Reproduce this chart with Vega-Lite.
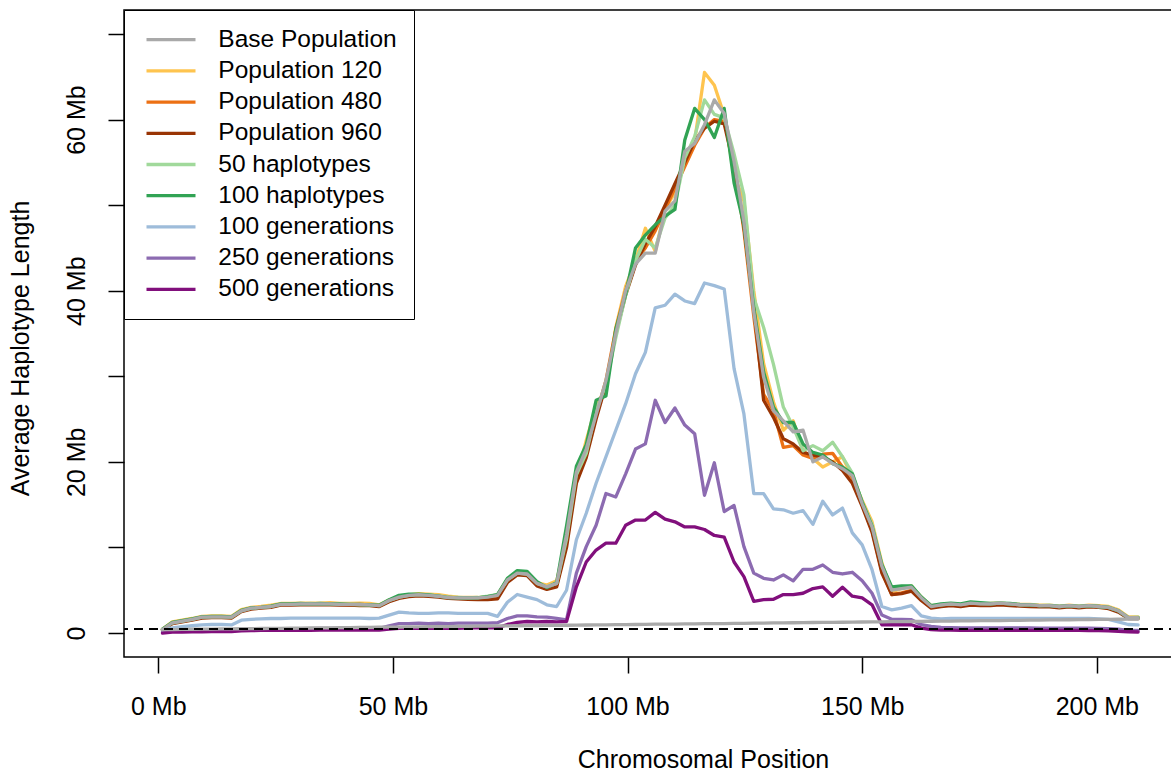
{
  "$schema": "https://vega.github.io/schema/vega-lite/v6.json",
  "width": 1054,
  "height": 647,
  "autosize": {"type": "none"},
  "padding": {"left": 124, "top": 10, "right": 0, "bottom": 114},
  "background": "white",
  "config": {
    "font": "Liberation Sans",
    "view": {"stroke": "black", "strokeWidth": 1.5}
  },
  "datasets": {
    "hap": [
      {"pos":0.9,"base":0.40,"p120":0.45,"p480":0.40,"p960":0.35,"h50":0.40,"h100":0.45,"g100":0.40,"g250":0.10,"g500":0.00,"top":0.40},
      {"pos":3.0,"base":0.41,"p120":1.3,"p480":1.2,"p960":1.1,"h50":1.2,"h100":1.25,"g100":0.6,"g250":0.2,"g500":0.1,"top":1.2},
      {"pos":5.1,"base":0.43,"p120":1.5,"p480":1.4,"p960":1.3,"h50":1.4,"h100":1.45,"g100":0.75,"g250":0.25,"g500":0.12,"top":1.4},
      {"pos":7.2,"base":0.44,"p120":1.7,"p480":1.6,"p960":1.5,"h50":1.6,"h100":1.65,"g100":0.85,"g250":0.28,"g500":0.14,"top":1.6},
      {"pos":9.3,"base":0.45,"p120":1.95,"p480":1.85,"p960":1.75,"h50":1.85,"h100":1.9,"g100":0.95,"g250":0.3,"g500":0.15,"top":1.85},
      {"pos":11.4,"base":0.46,"p120":2.0,"p480":1.9,"p960":1.8,"h50":1.9,"h100":1.95,"g100":1.0,"g250":0.3,"g500":0.16,"top":1.9},
      {"pos":13.5,"base":0.48,"p120":2.0,"p480":1.9,"p960":1.8,"h50":1.9,"h100":1.95,"g100":1.0,"g250":0.3,"g500":0.17,"top":1.9},
      {"pos":15.6,"base":0.49,"p120":1.95,"p480":1.85,"p960":1.75,"h50":1.85,"h100":1.9,"g100":0.95,"g250":0.32,"g500":0.18,"top":1.85},
      {"pos":17.7,"base":0.50,"p120":2.75,"p480":2.6,"p960":2.5,"h50":2.6,"h100":2.65,"g100":1.5,"g250":0.45,"g500":0.25,"top":2.6},
      {"pos":19.8,"base":0.51,"p120":3.0,"p480":2.9,"p960":2.8,"h50":2.9,"h100":2.95,"g100":1.6,"g250":0.48,"g500":0.28,"top":2.9},
      {"pos":21.9,"base":0.53,"p120":3.1,"p480":3.0,"p960":2.9,"h50":3.0,"h100":3.0,"g100":1.65,"g250":0.5,"g500":0.3,"top":3.0},
      {"pos":24.0,"base":0.54,"p120":3.25,"p480":3.1,"p960":3.0,"h50":3.1,"h100":3.15,"g100":1.7,"g250":0.5,"g500":0.3,"top":3.1},
      {"pos":26.1,"base":0.55,"p120":3.45,"p480":3.35,"p960":3.25,"h50":3.35,"h100":3.4,"g100":1.7,"g250":0.5,"g500":0.3,"top":3.35},
      {"pos":28.2,"base":0.56,"p120":3.45,"p480":3.35,"p960":3.25,"h50":3.35,"h100":3.4,"g100":1.75,"g250":0.52,"g500":0.32,"top":3.35},
      {"pos":30.3,"base":0.58,"p120":3.5,"p480":3.4,"p960":3.3,"h50":3.4,"h100":3.45,"g100":1.75,"g250":0.52,"g500":0.32,"top":3.4},
      {"pos":32.4,"base":0.59,"p120":3.5,"p480":3.4,"p960":3.3,"h50":3.45,"h100":3.4,"g100":1.75,"g250":0.52,"g500":0.32,"top":3.4},
      {"pos":34.5,"base":0.60,"p120":3.5,"p480":3.4,"p960":3.3,"h50":3.4,"h100":3.45,"g100":1.75,"g250":0.53,"g500":0.33,"top":3.4},
      {"pos":36.6,"base":0.61,"p120":3.55,"p480":3.4,"p960":3.3,"h50":3.4,"h100":3.4,"g100":1.75,"g250":0.53,"g500":0.33,"top":3.4},
      {"pos":38.7,"base":0.63,"p120":3.45,"p480":3.35,"p960":3.25,"h50":3.35,"h100":3.4,"g100":1.75,"g250":0.54,"g500":0.34,"top":3.35},
      {"pos":40.8,"base":0.64,"p120":3.45,"p480":3.3,"p960":3.25,"h50":3.35,"h100":3.35,"g100":1.75,"g250":0.54,"g500":0.34,"top":3.35},
      {"pos":42.9,"base":0.65,"p120":3.5,"p480":3.35,"p960":3.2,"h50":3.3,"h100":3.35,"g100":1.75,"g250":0.55,"g500":0.35,"top":3.35},
      {"pos":45.0,"base":0.66,"p120":3.45,"p480":3.3,"p960":3.2,"h50":3.3,"h100":3.3,"g100":1.7,"g250":0.55,"g500":0.35,"top":3.3},
      {"pos":47.1,"base":0.68,"p120":3.3,"p480":3.2,"p960":3.1,"h50":3.2,"h100":3.25,"g100":1.75,"g250":0.55,"g500":0.35,"top":3.2},
      {"pos":49.2,"base":0.69,"p120":3.85,"p480":3.75,"p960":3.65,"h50":3.8,"h100":3.9,"g100":2.1,"g250":0.85,"g500":0.45,"top":3.8},
      {"pos":51.3,"base":0.70,"p120":4.25,"p480":4.15,"p960":4.05,"h50":4.2,"h100":4.4,"g100":2.45,"g250":1.1,"g500":0.55,"top":4.2},
      {"pos":53.4,"base":0.71,"p120":4.45,"p480":4.35,"p960":4.25,"h50":4.4,"h100":4.55,"g100":2.35,"g250":1.1,"g500":0.55,"top":4.4},
      {"pos":55.5,"base":0.73,"p120":4.6,"p480":4.45,"p960":4.35,"h50":4.5,"h100":4.55,"g100":2.3,"g250":1.15,"g500":0.55,"top":4.5},
      {"pos":57.6,"base":0.74,"p120":4.55,"p480":4.4,"p960":4.3,"h50":4.45,"h100":4.45,"g100":2.3,"g250":1.1,"g500":0.55,"top":4.4},
      {"pos":59.7,"base":0.75,"p120":4.5,"p480":4.3,"p960":4.2,"h50":4.35,"h100":4.3,"g100":2.35,"g250":1.15,"g500":0.55,"top":4.3},
      {"pos":61.8,"base":0.76,"p120":4.3,"p480":4.15,"p960":4.05,"h50":4.2,"h100":4.15,"g100":2.35,"g250":1.1,"g500":0.55,"top":4.15},
      {"pos":63.9,"base":0.78,"p120":4.2,"p480":4.1,"p960":4.0,"h50":4.15,"h100":4.1,"g100":2.3,"g250":1.15,"g500":0.55,"top":4.1},
      {"pos":66.0,"base":0.79,"p120":4.15,"p480":4.05,"p960":3.95,"h50":4.1,"h100":4.1,"g100":2.3,"g250":1.15,"g500":0.6,"top":4.1},
      {"pos":68.1,"base":0.80,"p120":4.15,"p480":4.0,"p960":3.9,"h50":4.15,"h100":4.1,"g100":2.3,"g250":1.15,"g500":0.6,"top":4.1},
      {"pos":70.2,"base":0.81,"p120":4.25,"p480":4.1,"p960":3.9,"h50":4.3,"h100":4.25,"g100":2.3,"g250":1.15,"g500":0.6,"top":4.2},
      {"pos":72.3,"base":0.83,"p120":4.45,"p480":4.3,"p960":4.0,"h50":4.5,"h100":4.5,"g100":1.95,"g250":1.2,"g500":0.6,"top":4.4},
      {"pos":74.4,"base":0.84,"p120":6.3,"p480":6.1,"p960":5.9,"h50":6.2,"h100":6.4,"g100":3.6,"g250":1.7,"g500":1.0,"top":6.2},
      {"pos":76.5,"base":0.85,"p120":7.1,"p480":6.9,"p960":6.8,"h50":7.0,"h100":7.3,"g100":4.5,"g250":2.0,"g500":1.25,"top":7.0},
      {"pos":78.6,"base":0.86,"p120":7.0,"p480":6.8,"p960":6.7,"h50":6.9,"h100":7.2,"g100":4.2,"g250":2.0,"g500":1.35,"top":6.9},
      {"pos":80.7,"base":0.88,"p120":5.9,"p480":5.7,"p960":5.5,"h50":5.8,"h100":6.0,"g100":3.9,"g250":1.9,"g500":1.3,"top":5.8},
      {"pos":82.8,"base":0.89,"p120":5.6,"p480":5.3,"p960":5.1,"h50":5.4,"h100":5.3,"g100":3.3,"g250":1.85,"g500":1.35,"top":5.4},
      {"pos":84.9,"base":0.90,"p120":6.1,"p480":5.6,"p960":5.4,"h50":5.8,"h100":5.9,"g100":3.1,"g250":1.7,"g500":1.3,"top":5.8},
      {"pos":87.0,"base":0.91,"p120":11.0,"p480":10.5,"p960":10.0,"h50":11.0,"h100":12.5,"g100":5.0,"g250":1.55,"g500":1.35,"top":11.5},
      {"pos":89.1,"base":0.93,"p120":18.0,"p480":18.0,"p960":17.5,"h50":18.5,"h100":19.5,"g100":10.9,"g250":7.0,"g500":5.4,"top":18.8},
      {"pos":91.2,"base":0.94,"p120":22.5,"p480":21.0,"p960":20.5,"h50":21.0,"h100":22.0,"g100":14.0,"g250":10.1,"g500":8.3,"top":21.5},
      {"pos":93.3,"base":0.95,"p120":26.5,"p480":25.5,"p960":25.0,"h50":26.0,"h100":27.2,"g100":17.5,"g250":12.6,"g500":9.7,"top":25.5},
      {"pos":95.4,"base":0.96,"p120":28.6,"p480":29.5,"p960":29.0,"h50":29.0,"h100":27.7,"g100":20.6,"g250":16.3,"g500":10.5,"top":29.5},
      {"pos":97.5,"base":0.98,"p120":35.7,"p480":35.5,"p960":35.0,"h50":34.5,"h100":35.5,"g100":23.7,"g250":15.9,"g500":10.5,"top":35.0},
      {"pos":99.6,"base":0.99,"p120":40.5,"p480":40.0,"p960":39.5,"h50":39.5,"h100":39.6,"g100":26.8,"g250":18.6,"g500":12.6,"top":40.0},
      {"pos":101.7,"base":1.00,"p120":43.5,"p480":43.5,"p960":43.0,"h50":43.5,"h100":45.0,"g100":30.3,"g250":21.5,"g500":13.2,"top":43.1},
      {"pos":103.8,"base":1.01,"p120":47.3,"p480":45.0,"p960":45.5,"h50":46.0,"h100":46.5,"g100":32.8,"g250":22.1,"g500":13.2,"top":44.4},
      {"pos":105.9,"base":1.03,"p120":44.6,"p480":47.0,"p960":47.5,"h50":45.0,"h100":47.7,"g100":38.0,"g250":27.2,"g500":14.1,"top":44.4},
      {"pos":108.0,"base":1.04,"p120":49.5,"p480":49.5,"p960":50.0,"h50":48.5,"h100":48.7,"g100":38.3,"g250":24.6,"g500":13.3,"top":49.3},
      {"pos":110.1,"base":1.05,"p120":51.5,"p480":52.0,"p960":52.5,"h50":50.0,"h100":49.5,"g100":39.6,"g250":26.3,"g500":13.0,"top":50.5},
      {"pos":112.2,"base":1.06,"p120":55.5,"p480":54.5,"p960":55.0,"h50":55.5,"h100":57.6,"g100":38.8,"g250":24.3,"g500":12.4,"top":56.3},
      {"pos":114.3,"base":1.08,"p120":57.5,"p480":57.0,"p960":57.5,"h50":58.0,"h100":61.3,"g100":38.5,"g250":23.3,"g500":12.4,"top":57.2},
      {"pos":116.4,"base":1.09,"p120":65.5,"p480":59.0,"p960":59.0,"h50":62.3,"h100":60.0,"g100":40.9,"g250":16.1,"g500":12.1,"top":59.4},
      {"pos":118.5,"base":1.10,"p120":64.0,"p480":60.0,"p960":59.8,"h50":60.6,"h100":57.9,"g100":40.6,"g250":19.9,"g500":11.4,"top":62.3},
      {"pos":120.6,"base":1.11,"p120":60.5,"p480":59.8,"p960":59.5,"h50":60.2,"h100":61.3,"g100":40.2,"g250":14.2,"g500":11.2,"top":60.7},
      {"pos":122.7,"base":1.13,"p120":53.5,"p480":55.0,"p960":54.5,"h50":56.0,"h100":52.6,"g100":30.9,"g250":14.9,"g500":8.3,"top":55.1},
      {"pos":124.8,"base":1.14,"p120":50.5,"p480":47.0,"p960":47.5,"h50":51.2,"h100":47.7,"g100":25.6,"g250":10.1,"g500":6.6,"top":48.1},
      {"pos":126.9,"base":1.15,"p120":40.0,"p480":37.0,"p960":38.0,"h50":39.2,"h100":38.0,"g100":16.3,"g250":7.0,"g500":3.7,"top":37.5},
      {"pos":129.0,"base":1.16,"p120":31.5,"p480":27.9,"p960":27.2,"h50":35.7,"h100":30.5,"g100":16.3,"g250":6.4,"g500":3.9,"top":29.9},
      {"pos":131.1,"base":1.18,"p120":27.0,"p480":26.0,"p960":25.2,"h50":31.4,"h100":26.4,"g100":14.5,"g250":6.2,"g500":3.95,"top":26.0},
      {"pos":133.2,"base":1.19,"p120":23.7,"p480":21.7,"p960":22.7,"h50":26.4,"h100":24.6,"g100":14.4,"g250":6.8,"g500":4.5,"top":24.8},
      {"pos":135.3,"base":1.20,"p120":24.8,"p480":21.9,"p960":22.1,"h50":24.1,"h100":24.6,"g100":14.0,"g250":6.1,"g500":4.5,"top":23.5},
      {"pos":137.4,"base":1.21,"p120":21.3,"p480":20.8,"p960":21.1,"h50":21.3,"h100":22.1,"g100":14.3,"g250":7.45,"g500":4.65,"top":23.7},
      {"pos":139.5,"base":1.23,"p120":20.4,"p480":20.4,"p960":20.8,"h50":21.9,"h100":21.1,"g100":12.7,"g250":7.45,"g500":5.2,"top":20.0},
      {"pos":141.6,"base":1.24,"p120":19.4,"p480":20.9,"p960":20.6,"h50":21.3,"h100":20.8,"g100":15.4,"g250":7.95,"g500":5.4,"top":20.6},
      {"pos":143.7,"base":1.25,"p120":20.0,"p480":21.0,"p960":20.0,"h50":22.3,"h100":19.8,"g100":13.8,"g250":7.1,"g500":4.3,"top":19.8},
      {"pos":145.8,"base":1.26,"p120":20.6,"p480":19.4,"p960":19.0,"h50":20.6,"h100":19.4,"g100":14.6,"g250":6.9,"g500":5.35,"top":19.2},
      {"pos":147.9,"base":1.28,"p120":18.2,"p480":18.2,"p960":17.5,"h50":18.7,"h100":18.6,"g100":11.7,"g250":7.1,"g500":4.3,"top":18.4},
      {"pos":150.0,"base":1.29,"p120":15.5,"p480":15.0,"p960":14.8,"h50":15.3,"h100":15.3,"g100":10.3,"g250":6.1,"g500":4.1,"top":15.1},
      {"pos":152.1,"base":1.30,"p120":13.0,"p480":12.0,"p960":11.8,"h50":12.7,"h100":12.5,"g100":7.4,"g250":4.65,"g500":3.3,"top":12.4},
      {"pos":154.2,"base":1.31,"p120":8.2,"p480":7.2,"p960":7.0,"h50":8.0,"h100":8.0,"g100":3.1,"g250":2.1,"g500":0.97,"top":7.8},
      {"pos":156.3,"base":1.33,"p120":4.8,"p480":4.5,"p960":4.5,"h50":5.2,"h100":5.4,"g100":2.7,"g250":1.6,"g500":0.97,"top":5.0},
      {"pos":158.4,"base":1.34,"p120":5.2,"p480":4.7,"p960":4.6,"h50":5.3,"h100":5.5,"g100":2.9,"g250":1.6,"g500":1.0,"top":5.2},
      {"pos":160.5,"base":1.35,"p120":5.5,"p480":5.0,"p960":4.9,"h50":5.5,"h100":5.5,"g100":3.2,"g250":1.55,"g500":0.97,"top":5.35},
      {"pos":162.6,"base":1.36,"p120":4.2,"p480":3.9,"p960":3.8,"h50":4.2,"h100":4.2,"g100":2.0,"g250":0.97,"g500":0.58,"top":4.1},
      {"pos":164.7,"base":1.38,"p120":3.2,"p480":3.0,"p960":2.9,"h50":3.2,"h100":3.2,"g100":1.75,"g250":0.77,"g500":0.4,"top":3.1},
      {"pos":166.8,"base":1.39,"p120":3.3,"p480":3.2,"p960":3.1,"h50":3.3,"h100":3.4,"g100":1.65,"g250":0.65,"g500":0.35,"top":3.3},
      {"pos":168.9,"base":1.40,"p120":3.4,"p480":3.3,"p960":3.2,"h50":3.4,"h100":3.5,"g100":1.7,"g250":0.62,"g500":0.33,"top":3.4},
      {"pos":171.0,"base":1.41,"p120":3.3,"p480":3.2,"p960":3.1,"h50":3.35,"h100":3.4,"g100":1.7,"g250":0.6,"g500":0.32,"top":3.3},
      {"pos":173.1,"base":1.43,"p120":3.5,"p480":3.35,"p960":3.25,"h50":3.5,"h100":3.65,"g100":1.72,"g250":0.6,"g500":0.32,"top":3.5},
      {"pos":175.2,"base":1.44,"p120":3.4,"p480":3.3,"p960":3.2,"h50":3.45,"h100":3.55,"g100":1.72,"g250":0.6,"g500":0.32,"top":3.4},
      {"pos":177.3,"base":1.45,"p120":3.45,"p480":3.3,"p960":3.2,"h50":3.4,"h100":3.45,"g100":1.72,"g250":0.6,"g500":0.32,"top":3.4},
      {"pos":179.4,"base":1.46,"p120":3.5,"p480":3.4,"p960":3.3,"h50":3.5,"h100":3.5,"g100":1.72,"g250":0.6,"g500":0.32,"top":3.5},
      {"pos":181.5,"base":1.48,"p120":3.4,"p480":3.3,"p960":3.2,"h50":3.4,"h100":3.45,"g100":1.72,"g250":0.6,"g500":0.3,"top":3.4},
      {"pos":183.6,"base":1.49,"p120":3.35,"p480":3.25,"p960":3.15,"h50":3.3,"h100":3.35,"g100":1.7,"g250":0.6,"g500":0.3,"top":3.3},
      {"pos":185.7,"base":1.50,"p120":3.35,"p480":3.2,"p960":3.1,"h50":3.3,"h100":3.3,"g100":1.7,"g250":0.6,"g500":0.3,"top":3.3},
      {"pos":187.8,"base":1.51,"p120":3.25,"p480":3.15,"p960":3.05,"h50":3.2,"h100":3.2,"g100":1.7,"g250":0.58,"g500":0.3,"top":3.2},
      {"pos":189.9,"base":1.53,"p120":3.25,"p480":3.15,"p960":3.05,"h50":3.25,"h100":3.2,"g100":1.7,"g250":0.58,"g500":0.3,"top":3.2},
      {"pos":192.0,"base":1.54,"p120":3.15,"p480":3.05,"p960":2.95,"h50":3.1,"h100":3.1,"g100":1.7,"g250":0.58,"g500":0.3,"top":3.1},
      {"pos":194.1,"base":1.55,"p120":3.25,"p480":3.15,"p960":3.05,"h50":3.2,"h100":3.2,"g100":1.7,"g250":0.58,"g500":0.3,"top":3.2},
      {"pos":196.2,"base":1.56,"p120":3.15,"p480":3.05,"p960":2.95,"h50":3.1,"h100":3.1,"g100":1.7,"g250":0.58,"g500":0.3,"top":3.1},
      {"pos":198.3,"base":1.58,"p120":3.25,"p480":3.15,"p960":3.05,"h50":3.2,"h100":3.2,"g100":1.7,"g250":0.56,"g500":0.28,"top":3.2},
      {"pos":200.4,"base":1.59,"p120":3.2,"p480":3.1,"p960":3.0,"h50":3.1,"h100":3.1,"g100":1.65,"g250":0.55,"g500":0.28,"top":3.1},
      {"pos":202.5,"base":1.60,"p120":3.1,"p480":2.95,"p960":2.85,"h50":3.0,"h100":3.0,"g100":1.6,"g250":0.52,"g500":0.25,"top":3.0},
      {"pos":204.6,"base":1.61,"p120":2.7,"p480":2.55,"p960":2.45,"h50":2.6,"h100":2.6,"g100":1.3,"g250":0.45,"g500":0.2,"top":2.6},
      {"pos":206.7,"base":1.63,"p120":1.9,"p480":1.75,"p960":1.7,"h50":1.8,"h100":1.8,"g100":1.0,"g250":0.32,"g500":0.15,"top":1.8},
      {"pos":208.8,"base":1.64,"p120":1.9,"p480":1.75,"p960":1.7,"h50":1.85,"h100":1.8,"g100":0.95,"g250":0.3,"g500":0.12,"top":1.8}
    ],
    "ref": [{"value": 0.47}]
  },
  "layer": [
    {
      "data": {"name": "hap"},
      "transform": [
        {"fold": ["p120", "p480", "p960", "h50", "h100", "g100", "g250", "g500", "base"], "as": ["series", "value"]}
      ],
      "mark": {"type": "line", "strokeWidth": 3.3, "strokeJoin": "round", "strokeCap": "round"},
      "encoding": {
        "x": {
          "field": "pos", "type": "quantitative",
          "scale": {"domain": [-7.3, 217.3], "nice": false, "zero": false},
          "axis": {
            "title": "Chromosomal Position",
            "values": [0, 50, 100, 150, 200],
            "labelExpr": "datum.value + ' Mb'",
            "grid": false, "domain": false,
            "tickSize": 16, "tickWidth": 1.5, "tickColor": "black",
            "labelFontSize": 25, "labelColor": "black", "labelPadding": 41,
            "labelBaseline": "alphabetic", "labelFlush": false, "labelOverlap": false,
            "titleFontSize": 25, "titleFontWeight": "normal", "titleColor": "black",
            "titleX": 579, "titleY": 110, "titleBaseline": "alphabetic", "titleAlign": "center"
          }
        },
        "y": {
          "field": "value", "type": "quantitative",
          "scale": {"domain": [-2.8, 72.8], "nice": false, "zero": false},
          "axis": {
            "title": "Average Haplotype Length",
            "values": [0, 10, 20, 30, 40, 50, 60, 70],
            "labelExpr": "datum.value % 20 == 0 ? (datum.value == 0 ? '0' : datum.value + ' Mb') : ''",
            "grid": false, "domain": false,
            "tickSize": 16, "tickWidth": 1.5, "tickColor": "black",
            "labelFontSize": 25, "labelColor": "black", "labelPadding": 24,
            "labelAngle": -90, "labelAlign": "center", "labelBaseline": "alphabetic",
            "labelOverlap": false, "labelFlush": false,
            "titleFontSize": 25, "titleFontWeight": "normal", "titleColor": "black",
            "titleAngle": -90, "titleX": -96, "titleY": 338, "titleBaseline": "alphabetic", "titleAlign": "center"
          }
        },
        "color": {
          "field": "series", "type": "nominal",
          "scale": {
            "domain": ["base", "p120", "p480", "p960", "h50", "h100", "g100", "g250", "g500"],
            "range": ["#a9a9a9", "#fec44f", "#ec7014", "#993404", "#a1d99b", "#31a354", "#9ebcda", "#8c6bb1", "#810f7c"]
          },
          "legend": {
            "orient": "top-left", "offset": 0, "title": null,
            "symbolType": "stroke", "symbolSize": 2401, "symbolStrokeWidth": 3.3, "symbolOffset": 3.8,
            "clipHeight": 26,
            "labelFontSize": 24.5, "labelColor": "black", "labelOffset": 20.8, "labelLimit": 400,
            "padding": 16.7, "rowPadding": 5.2,
            "strokeColor": "black", "fillColor": "white",
            "labelExpr": "datum.label == 'base' ? 'Base Population' : datum.label == 'p120' ? 'Population 120' : datum.label == 'p480' ? 'Population 480' : datum.label == 'p960' ? 'Population 960' : datum.label == 'h50' ? '50 haplotypes' : datum.label == 'h100' ? '100 haplotypes' : datum.label == 'g100' ? '100 generations' : datum.label == 'g250' ? '250 generations' : '500 generations'"
          }
        }
      }
    },
    {
      "data": {"name": "hap"},
      "transform": [
        {"fold": ["top"], "as": ["series", "value"]}
      ],
      "mark": {"type": "line", "strokeWidth": 3.3, "strokeJoin": "round", "strokeCap": "round", "color": "#a9a9a9"},
      "encoding": {
        "x": {"field": "pos", "type": "quantitative"},
        "y": {"field": "value", "type": "quantitative"}
      }
    },
    {
      "data": {"name": "ref"},
      "mark": {"type": "rule", "color": "black", "strokeWidth": 2, "strokeDash": [9, 6]},
      "encoding": {
        "y": {"field": "value", "type": "quantitative"}
      }
    }
  ]
}
